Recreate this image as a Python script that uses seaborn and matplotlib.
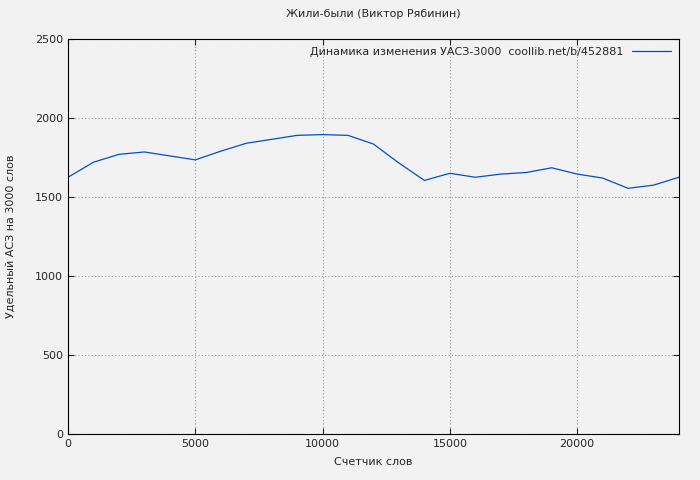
import matplotlib
matplotlib.use("Agg")
import matplotlib.pyplot as plt
import seaborn as sns

words = [0, 1000, 2000, 3000, 4000, 5000, 6000, 7000, 8000, 9000, 10000, 11000, 12000,
         13000, 14000, 15000, 16000, 17000, 18000, 19000, 20000, 21000, 22000, 23000, 24000]
uacs = [1625, 1720, 1770, 1785, 1760, 1735, 1790, 1840, 1865, 1890, 1895, 1890, 1835,
        1715, 1605, 1650, 1625, 1645, 1655, 1685, 1645, 1620, 1555, 1575, 1625]
xticks = [0, 5000, 10000, 15000, 20000]
yticks = [0, 500, 1000, 1500, 2000, 2500]

sns.set_style("ticks")
plt.rcParams["font.family"] = ["DejaVu Sans"]
plt.rcParams["font.size"] = 8

fig = plt.figure(figsize=(7, 4.8), dpi=100, facecolor="#f2f2f2")
ax = fig.add_axes([68 / 700, 46 / 480, 611 / 700, 395 / 480])
ax.set_facecolor("#f2f2f2")

sns.lineplot(x=words, y=uacs, ax=ax, color="#0050c8", linewidth=0.9,
             label="Динамика изменения УАСЗ-3000  coollib.net/b/452881")

ax.set_xlim(0, 24000)
ax.set_ylim(0, 2500)
ax.set_xticks(xticks)
ax.set_yticks(yticks)
ax.grid(True, color="#999999", linestyle=(0, (1, 2)), linewidth=0.8)
for s in ax.spines.values():
    s.set_color("black")
    s.set_linewidth(0.8)
ax.tick_params(direction="in", length=4, top=True, right=True, labelsize=8)

ax.set_title("Жили-были (Виктор Рябинин)", fontsize=8, pad=16)
ax.set_xlabel("Счетчик слов", fontsize=8, labelpad=6)
ax.set_ylabel("Удельный АСЗ на 3000 слов", fontsize=8, labelpad=14)

leg = ax.legend(loc="upper right", frameon=False, fontsize=8, markerfirst=False,
                handlelength=3.5, borderaxespad=0.3)

fig.savefig("out.png", dpi=100, facecolor=fig.get_facecolor())
